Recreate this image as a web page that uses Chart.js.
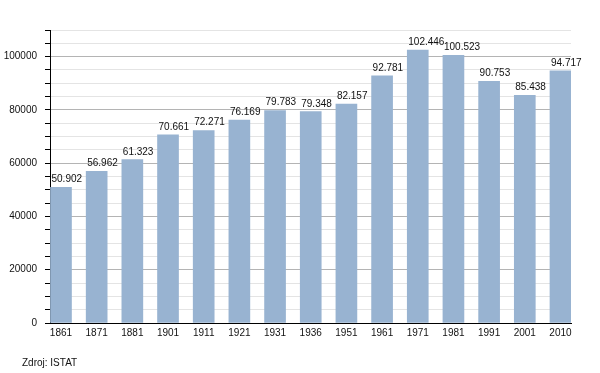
<!DOCTYPE html>
<html>
<head>
<meta charset="utf-8">
<script src="https://cdn.jsdelivr.net/npm/chart.js@4/dist/chart.umd.min.js"></script>
<style>
  html, body { margin: 0; padding: 0; background: #fff; }
  #wrap { position: relative; width: 600px; height: 373px; }
  #note { position: absolute; left: 22px; top: 357px; font: 10px "Liberation Sans", Arial, sans-serif; line-height: 12px; color: #111; }
</style>
</head>
<body>
<div id="wrap">
  <canvas id="popChart" width="600" height="373"></canvas>
  <div id="note">Zdroj: ISTAT</div>
</div>
<script>
// population by census year
const years = ['1861', '1871', '1881', '1901', '1911', '1921', '1931', '1936', '1951', '1961', '1971', '1981', '1991', '2001', '2010'];
const population = [50902, 56962, 61323, 70661, 72271, 76169, 79783, 79348, 82157, 92781, 102446, 100523, 90753, 85438, 94717];
const yMax = 110000;
const yStep = 5000;
const yLabelStep = 20000;

Chart.defaults.font.family = '"Liberation Sans", Arial, sans-serif';
Chart.defaults.font.size = 10;
Chart.defaults.color = '#111';

function withDots(v) {
    return String(v).replace(/\B(?=(\d{3})+(?!\d))/g, '.');
}

// numbers above bars, left aligned with the bar
const barLabels = {
    id: 'barLabels',
    afterDatasetsDraw(chart) {
        const ctx = chart.ctx;
        const meta = chart.getDatasetMeta(0);
        ctx.save();
        ctx.font = '10px "Liberation Sans", Arial, sans-serif';
        ctx.fillStyle = '#111';
        ctx.textAlign = 'left';
        ctx.textBaseline = 'alphabetic';
        meta.data.forEach((bar, i) => {
            ctx.fillText(withDots(population[i]), bar.x - bar.width / 2 + 1, bar.y - 5);
        });
        ctx.restore();
    }
};

new Chart(document.getElementById('popChart'), {
    type: 'bar',
    data: {
        labels: years,
        datasets: [{
            data: population,
            backgroundColor: '#98b3d1',
            barThickness: 21
        }]
    },
    options: {
        responsive: false,
        animation: false,
        layout: { padding: { top: 30, right: 29, bottom: 30, left: 0 } },
        plugins: { legend: { display: false }, tooltip: { enabled: false } },
        scales: {
            x: {
                offset: false,
                grid: { display: false, drawTicks: false },
                border: { color: '#000', width: 1 },
                ticks: { padding: 4, color: '#111', maxRotation: 0, autoSkip: false },
                afterFit(scale) { scale.height = 20; },
                afterBuildTicks(scale) {
                    scale._startValue = -0.308;
                    scale._valueRange = 14.603;
                }
            },
            y: {
                min: 0,
                max: yMax,
                border: { color: '#000', width: 1 },
                grid: {
                    color: ctx => {
                        const v = ctx.tick.value;
                        if (v === 0) return 'rgba(0,0,0,0)';
                        return v % yLabelStep === 0 ? '#b4b4b4' : '#e4e4e4';
                    },
                    tickColor: '#000',
                    tickLength: 5
                },
                ticks: {
                    stepSize: yStep,
                    padding: 8,
                    color: '#111',
                    autoSkip: false,
                    callback: v => (v % yLabelStep === 0 ? String(v) : '')
                },
                afterFit(scale) { scale.width = 50; }
            }
        }
    },
    plugins: [barLabels]
});
</script>
</body>
</html>
